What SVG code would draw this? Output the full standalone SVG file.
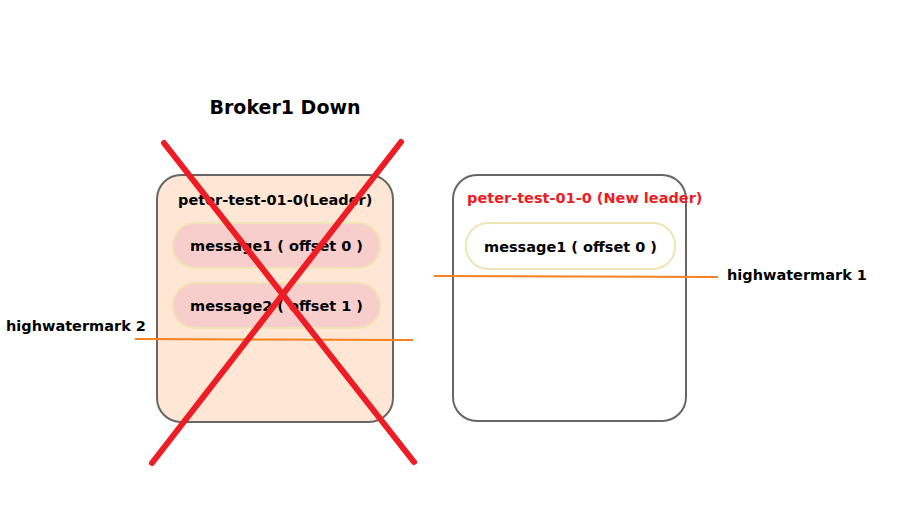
<svg xmlns="http://www.w3.org/2000/svg" width="905" height="517" viewBox="0 0 905 517">
<style>
.box{stroke:#666666;stroke-width:2}
.pill{stroke:#f0e3b5;stroke-width:2}
.t{font-family:"DejaVu Sans","Liberation Sans",sans-serif;font-weight:bold;font-size:14.5px;fill:#000}
.hw{stroke:#f5821f;stroke-width:2;fill:none}
.x{stroke:#ee1c25;stroke-width:6;stroke-linecap:round}
</style>
<defs>
<clipPath id="clipL"><rect x="157" y="174" width="216" height="40"/></clipPath>
</defs>
<rect width="905" height="517" fill="#ffffff"/>
<text class="t" x="285" y="114" text-anchor="middle" style="font-size:19px">Broker1 Down</text>
<g id="broker1">
<rect class="box" x="157" y="175" width="236" height="247" rx="24" fill="#ffe6d5"/>
<text class="t" x="178" y="205" clip-path="url(#clipL)">peter-test-01-0(Leader)</text>
</g>
<g id="b1msg1">
<rect class="pill" x="173" y="223" width="207" height="45" rx="22" fill="#f8cecc"/>
<text class="t" x="276.5" y="251" text-anchor="middle">message1 ( offset 0 )</text>
</g>
<g id="b1msg2">
<rect class="pill" x="173" y="283" width="207" height="45" rx="22" fill="#f8cecc"/>
<text class="t" x="276.5" y="311" text-anchor="middle">message2 ( offset 1 )</text>
</g>
<g id="broker2">
<rect class="box" x="453" y="175" width="233" height="246" rx="24" fill="#ffffff"/>
<text class="t" x="467" y="203" style="fill:#ee1c25">peter-test-01-0 (New leader)</text>
</g>
<g id="b2msg1">
<rect class="pill" x="466" y="223" width="209" height="46" rx="22" fill="#ffffff"/>
<text class="t" x="570.5" y="252" text-anchor="middle">message1 ( offset 0 )</text>
</g>
<g id="connectors">
<line class="hw" x1="135" y1="339" x2="413" y2="340"/>
<line class="hw" x1="434" y1="276" x2="718" y2="277"/>
<line class="x" x1="164" y1="143" x2="414" y2="462"/>
<line class="x" x1="401" y1="142" x2="152" y2="463"/>
</g>
<text class="t" x="6" y="331">highwatermark 2</text>
<text class="t" x="727" y="280">highwatermark 1</text>
</svg>
